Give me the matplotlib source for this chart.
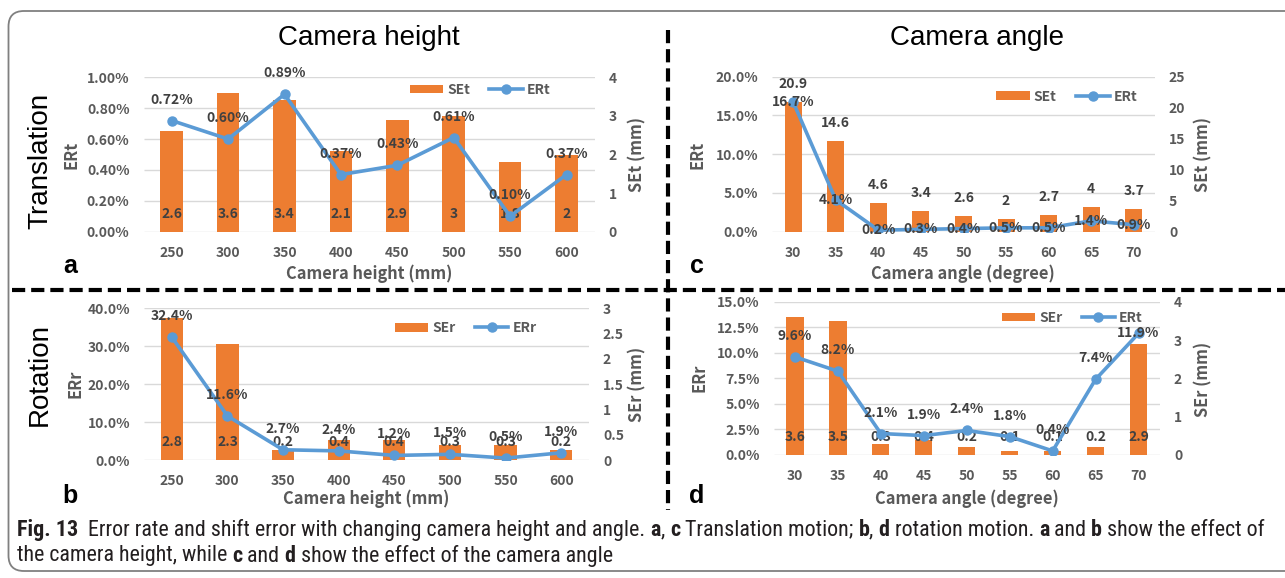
import numpy as np
import matplotlib
matplotlib.use("Agg")
import matplotlib.pyplot as plt
from matplotlib import font_manager as fm
from matplotlib.patches import Patch, FancyBboxPatch
from matplotlib.lines import Line2D
from matplotlib.transforms import blended_transform_factory
from matplotlib.ticker import FuncFormatter, MultipleLocator

# ---------------- data ----------------
height_cats = ["250", "300", "350", "400", "450", "500", "550", "600"]
angle_cats = ["30", "35", "40", "45", "50", "55", "60", "65", "70"]

set_height = [2.6, 3.6, 3.4, 2.1, 2.9, 3.0, 1.8, 2.0]          # SEt (mm)
ert_height = [0.72, 0.60, 0.89, 0.37, 0.43, 0.61, 0.10, 0.37]  # ERt (%)
ser_height = [2.8, 2.3, 0.2, 0.4, 0.4, 0.3, 0.3, 0.2]          # SEr (mm)
err_height = [32.4, 11.6, 2.7, 2.4, 1.2, 1.5, 0.5, 1.9]        # ERr (%)

set_angle = [20.9, 14.6, 4.6, 3.4, 2.6, 2.0, 2.7, 4.0, 3.7]     # SEt (mm)
ert_angle = [16.7, 4.1, 0.2, 0.3, 0.4, 0.5, 0.5, 1.4, 0.9]      # ERt (%)
ser_angle = [3.6, 3.5, 0.3, 0.4, 0.2, 0.1, 0.1, 0.2, 2.9]       # SEr (mm)
err_angle = [9.6, 8.2, 2.1, 1.9, 2.4, 1.8, 0.4, 7.4, 11.9]      # ERr (%)

# ---------------- style ----------------
W, H, DPI = 1285, 578, 100
ORANGE = "#ED7D31"
BLUE = "#5B9BD5"
GRID = "#D9D9D9"
TICK = "#595959"
LABEL = "#404040"

plt.rcParams["font.family"] = ["Noto Sans CJK JP", "DejaVu Sans"]
plt.rcParams["font.weight"] = "bold"
plt.rcParams["lines.scale_dashes"] = False

fig = plt.figure(figsize=(W / DPI, H / DPI), dpi=DPI)
fig.patch.set_facecolor("white")


def fx(x):
    return x / W


def fy(y):
    return 1 - y / H


def rect(x0, x1, y0, y1):
    return [fx(x0), fy(y1), (x1 - x0) / W, (y1 - y0) / H]


PX = 72.0 / DPI  # points per pixel


def panel(r, cats, se, er, se_max, se_step, er_max, er_step, er_dec,
          bar_mode, line_mode, legend_labels, legend_pos, line_offsets=None):
    ax = fig.add_axes(r)
    ax2 = ax.twinx()
    ax.set_zorder(ax2.get_zorder() + 1)
    ax.patch.set_visible(False)
    n = len(cats)
    x = np.arange(n)
    ax.set_xlim(-0.5, n - 0.5)
    ax.set_ylim(0, er_max)
    ax2.set_ylim(0, se_max)

    trans = blended_transform_factory(ax2.transAxes, ax.transData)
    gl = np.arange(0, er_max + 1e-9, er_step)
    ax2.hlines(gl, 0, 1, transform=trans, color=GRID, lw=1.0, zorder=0)
    ax2.bar(x, se, width=0.4, color=ORANGE, zorder=2)
    ax.plot(x, er, color=BLUE, lw=2.6, marker="o", ms=6.5, zorder=3,
            solid_capstyle="round")

    for a in (ax, ax2):
        for s in a.spines.values():
            s.set_visible(False)
        a.tick_params(length=0, pad=10, labelsize=10, labelcolor=TICK)
    ax.set_xticks(x)
    ax.set_xticklabels(cats)
    ax.yaxis.set_major_locator(MultipleLocator(er_step))
    ax.yaxis.set_major_formatter(
        FuncFormatter(lambda v, p: f"{v:.{er_dec}f}%"))
    ax2.yaxis.set_major_locator(MultipleLocator(se_step))
    ax2.yaxis.set_major_formatter(FuncFormatter(lambda v, p: f"{v:g}"))

    # bar labels
    for xi, v in zip(x, se):
        yv = 0 if bar_mode == "base" else v
        ax2.annotate(f"{v:g}", xy=(xi, yv), xytext=(0, 18 * PX),
                     textcoords="offset points", ha="center", va="center",
                     fontsize=10, color=LABEL, zorder=4)
    # line labels
    for i, (xi, v) in enumerate(zip(x, er)):
        if line_mode == "above":
            off = 21 if line_offsets is None else line_offsets[i]
        else:
            off = 0
        ax.annotate(f"{v:.{er_dec}f}%", xy=(xi, v), xytext=(0, off * PX),
                    textcoords="offset points", ha="center", va="center",
                    fontsize=10, color=LABEL, zorder=5)

    handles = [Patch(facecolor=ORANGE, edgecolor="none"),
               Line2D([], [], color=BLUE, lw=2.6, marker="o", ms=6.5)]
    ax.legend(handles, legend_labels, loc="center", bbox_to_anchor=legend_pos,
              ncol=2, frameon=False, fontsize=10, handlelength=2.4,
              handleheight=0.6, handletextpad=0.3, columnspacing=1.4,
              labelcolor=TICK)
    return ax, ax2


# panel a
panel(rect(143.5, 594.7, 77.3, 231.7), height_cats, set_height, ert_height,
      4, 1, 1.0, 0.2, 2, "base", "above", ["SEt", "ERt"], (0.746, 0.918))
# panel b
panel(rect(144, 589, 308.3, 460), height_cats, ser_height, err_height,
      3, 0.5, 40, 10, 1, "base", "above", ["SEr", "ERr"], (0.723, 0.87))
# panel c
panel(rect(772, 1155, 76.7, 231.7), angle_cats, set_angle, ert_angle,
      25, 5, 20, 5, 1, "end", "center", ["SEt", "ERt"], (0.77, 0.871))
# panel d
panel(rect(773.5, 1160, 301.7, 455), angle_cats, ser_angle, err_angle,
      4, 1, 15, 2.5, 1, "base", "above", ["SEr", "ERt"], (0.773, 0.894),
      line_offsets=[21, 21, 21, 21, 21, 21, 21, 21, 0])

# ---------------- axis titles ----------------
def ftext(x, y, s, **kw):
    fig.text(fx(x), fy(y), s, **kw)


axlab = dict(fontsize=11.8, color=TICK, ha="center", va="center")
ftext(72, 155, "ERt", rotation=90, **axlab)
ftext(637, 155, "SEt (mm)", rotation=90, **axlab)
ftext(75, 384, "ERr", rotation=90, **axlab)
ftext(637, 384, "SEr (mm)", rotation=90, **axlab)
ftext(697, 155, "ERt", rotation=90, **axlab)
ftext(1203, 155, "SEt (mm)", rotation=90, **axlab)
ftext(700, 378, "ERr", rotation=90, **axlab)
ftext(1203, 379, "SEr (mm)", rotation=90, **axlab)
ftext(369, 274, "Camera height (mm)", **axlab)
ftext(366, 499, "Camera height (mm)", **axlab)
ftext(963, 274, "Camera angle (degree)", **axlab)
ftext(967, 499, "Camera angle (degree)", **axlab)

big = dict(family="Liberation Sans", fontweight="normal", fontsize=20,
           color="black", ha="center", va="center")
ftext(369, 38, "Camera height", **big)
ftext(977, 38, "Camera angle", **big)
ftext(40, 161, "Translation", rotation=90, **big)
ftext(40, 375, "Rotation", rotation=90, **big)

letter = dict(family="Liberation Sans", fontweight="bold", fontsize=18,
              color="black", ha="center", va="baseline")
ftext(70, 273, "a", **letter)
ftext(70, 503, "b", **letter)
ftext(697, 273, "c", **letter)
ftext(697, 503, "d", **letter)

# ---------------- separators and frame ----------------
sep = dict(color="black", lw=3.0, linestyle=(0, (9.5, 4.3)),
           transform=fig.transFigure)
fig.add_artist(Line2D([fx(667.5), fx(667.5)], [fy(30), fy(510)], **sep))
fig.add_artist(Line2D([fx(12), fx(1290)], [fy(290), fy(290)], **sep))

frame = FancyBboxPatch((fx(8.5), fy(571)), fx(1320 - 8.5), (571 - 11) / H,
                       boxstyle="round,pad=0,rounding_size=0.012",
                       transform=fig.transFigure, facecolor="none",
                       edgecolor="#808080", lw=1.3, mutation_aspect=W / H)
fig.add_artist(frame)

# ---------------- caption ----------------
names = {f.name for f in fm.fontManager.ttflist}
cap_props = None
for fam in ["Liberation Sans Narrow", "Roboto Condensed", "Open Sans Condensed",
            "Noto Sans Condensed"]:
    if fam in names:
        cap_props = dict(family=fam)
        break
if cap_props is None:
    cap_props = dict(family="Liberation Sans")

line1 = [("Fig. 13", True),
         ("  Error rate and shift error with changing camera height and angle. ", False),
         ("a", True), (", ", False), ("c", True), (" Translation motion; ", False),
         ("b", True), (", ", False), ("d", True), (" rotation motion. ", False),
         ("a", True), (" and ", False), ("b", True), (" show the effect of", False)]
line2 = [("the camera height, while ", False), ("c", True), (" and ", False),
         ("d", True), (" show the effect of the camera angle", False)]

renderer = fig.canvas.get_renderer()


def run_width(s, bold, size):
    fp = fm.FontProperties(weight="bold" if bold else "normal", size=size,
                           **cap_props)
    w1, _, _ = renderer.get_text_width_height_descent(s + "I", fp, ismath=False)
    w2, _, _ = renderer.get_text_width_height_descent("I", fp, ismath=False)
    return w1 - w2


base = 13.0
total = sum(run_width(s, b, base) for s, b in line1)
size = base * (1262 - 17) / total


def draw_runs(x0, y, runs):
    x = x0
    for s, b in runs:
        fig.text(fx(x), fy(y), s, fontsize=size,
                 fontweight="bold" if b else "normal", color="#231F20",
                 ha="left", va="center", **cap_props)
        x += run_width(s, b, size)


draw_runs(17, 530, line1)
draw_runs(17, 556, line2)

fig.savefig("out.png", dpi=DPI, facecolor="white")
